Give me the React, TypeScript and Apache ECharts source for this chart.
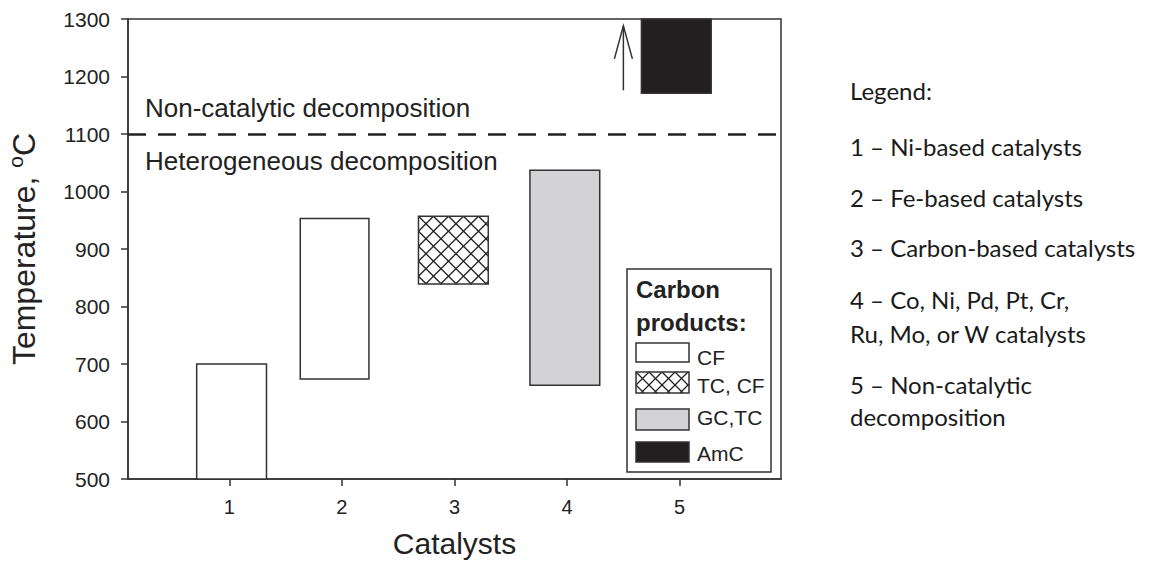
import React, { useEffect, useRef } from "react";
import * as echarts from "echarts";

// ---- data ----
const catalystTicks = [1, 2, 3, 4, 5];
const barXStart = [0.71, 1.63, 2.68, 3.67, 4.66];
const barXEnd = [1.33, 2.24, 3.3, 4.29, 5.28];
const barLow = [500, 674, 839, 663, 1171];
const barHigh = [700, 953, 957, 1037, 1300];
const barProduct = [0, 0, 1, 2, 3];
const productLabels = ["CF", "TC, CF", "GC,TC", "AmC"];
const boundaryTemp = 1100;
const arrowX = [4.5];
const arrowFrom = [1176];
const arrowTo = [1288];
const regionLabels = ["Non-catalytic decomposition", "Heterogeneous decomposition"];
const legendTitle = ["Carbon", "products:"];
const sideLegend = [
  "Legend:",
  "1 – Ni-based catalysts",
  "2 – Fe-based catalysts",
  "3 – Carbon-based catalysts",
  "4 – Co, Ni, Pd, Pt, Cr,",
  "Ru, Mo, or W catalysts",
  "5 – Non-catalytic",
  "decomposition",
];

// ---- styles ----
const FONT = "'Liberation Sans', Arial, sans-serif";
const SIDE_FONT = "Lato, 'Noto Sans', sans-serif";
const INK = "#222222";
const EDGE = "#333333";
const fills = ["#ffffff", "#ffffff", "#d3d3d5", "#231f20"];

function hatchLines(x0: number, y0: number, x1: number, y1: number, period: number) {
  const style = { stroke: "#222", lineWidth: 1.3 };
  const els: any[] = [];
  const ox = x0 - y0;
  for (let k = -200; k <= 200; k++) {
    const c = ox + k * period;
    const xa = Math.max(x0, y0 + c);
    const xb = Math.min(x1, y1 + c);
    if (xb - xa > 0.3) els.push({ type: "line", shape: { x1: xa, y1: xa - c, x2: xb, y2: xb - c }, style });
  }
  const od = x0 + y0;
  for (let k = -200; k <= 200; k++) {
    const c = od + k * period;
    const xa = Math.max(x0, c - y1);
    const xb = Math.min(x1, c - y0);
    if (xb - xa > 0.3) els.push({ type: "line", shape: { x1: xa, y1: c - xa, x2: xb, y2: c - xb }, style });
  }
  return els;
}

export default function App() {
  const ref = useRef<HTMLDivElement>(null);
  useEffect(() => {
    if (!ref.current) return;
    const chart = echarts.init(ref.current, undefined, { renderer: "svg" });

    const barData = barXStart.map((_, i) => [barXStart[i], barXEnd[i], barLow[i], barHigh[i], barProduct[i]]);
    const arrowData = arrowX.map((_, i) => [arrowX[i], arrowFrom[i], arrowTo[i]]);

    const swatchY = [343, 372, 409, 442];
    const swatchH = [19, 21, 21, 20];
    const labelY = [357, 385, 417, 453];
    const legendChildren: any[] = [
      { type: "rect", shape: { x: 627, y: 269, width: 144, height: 203 }, style: { fill: "#fff", stroke: EDGE, lineWidth: 1.5 } },
      { type: "text", x: 636, y: 289, style: { text: legendTitle[0], font: `bold 24px ${FONT}`, fill: INK, verticalAlign: "middle" } },
      { type: "text", x: 636, y: 322, style: { text: legendTitle[1], font: `bold 24px ${FONT}`, fill: INK, verticalAlign: "middle" } },
    ];
    productLabels.forEach((lab, i) => {
      const x0 = 636, y0 = swatchY[i], w = 53, h = swatchH[i];
      legendChildren.push({ type: "rect", shape: { x: x0, y: y0, width: w, height: h }, style: { fill: fills[i], stroke: "none" } });
      if (i === 1) legendChildren.push(...hatchLines(x0, y0, x0 + w, y0 + h, 13));
      legendChildren.push({ type: "rect", shape: { x: x0, y: y0, width: w, height: h }, style: { fill: "none", stroke: EDGE, lineWidth: 1.5 } });
      legendChildren.push({ type: "text", x: 697, y: labelY[i], style: { text: lab, font: `21px ${FONT}`, fill: INK, verticalAlign: "middle" } });
    });

    const sideY = [90, 146, 197, 247, 299, 333, 384, 416];
    const sideChildren = sideLegend.map((t, i) => ({
      type: "text",
      x: 850,
      y: sideY[i],
      style: { text: t, font: `24px ${SIDE_FONT}`, fill: "#1a1a1a", verticalAlign: "middle" },
    }));

    chart.setOption({
      animation: false,
      backgroundColor: "#ffffff",
      grid: {
        left: 128, top: 19, right: 380, bottom: 87,
        outerBoundsMode: "none", containLabel: false,
        show: true, borderColor: EDGE, borderWidth: 1.5, backgroundColor: "transparent",
      },
      xAxis: {
        type: "value",
        min: 0.1,
        max: 5.9,
        splitLine: { show: false },
        axisLine: { show: true, onZero: false, lineStyle: { color: EDGE, width: 1.5 } },
        axisTick: { show: true, length: 7, customValues: catalystTicks, lineStyle: { color: EDGE, width: 1.5 } },
        axisLabel: { customValues: catalystTicks, fontSize: 20, color: INK, fontFamily: FONT, margin: 18, formatter: (v: number) => String(v) },
        name: "Catalysts",
        nameLocation: "middle",
        nameGap: 49,
        nameTextStyle: { fontSize: 30, color: INK, fontFamily: FONT },
      },
      yAxis: {
        type: "value",
        min: 500,
        max: 1300,
        interval: 100,
        splitLine: { show: false },
        axisLine: { show: true, lineStyle: { color: EDGE, width: 1.5 } },
        axisTick: { show: true, length: 7, lineStyle: { color: EDGE, width: 1.5 } },
        axisLabel: { fontSize: 21, color: INK, fontFamily: FONT, margin: 18, formatter: (v: number) => String(v) },
        name: "Temperature, {sup|o}C",
        nameLocation: "middle",
        nameGap: 86,
        nameTextStyle: {
          fontSize: 32,
          color: INK,
          fontFamily: FONT,
          lineHeight: 37,
          rich: { sup: { fontSize: 21, lineHeight: 21, verticalAlign: "top", color: INK, fontFamily: FONT } },
        },
      },
      series: [
        {
          type: "line",
          data: [],
          silent: true,
          markLine: {
            silent: true,
            symbol: ["none", "none"],
            label: { show: false },
            lineStyle: { type: [18, 12], width: 2.5, color: "#222" },
            data: [{ yAxis: boundaryTemp }],
          },
        },
        {
          type: "custom",
          data: barData,
          encode: { x: [0, 1], y: [2, 3] },
          renderItem: (_params: any, api: any) => {
            const p1 = api.coord([api.value(0), api.value(3)]);
            const p2 = api.coord([api.value(1), api.value(2)]);
            const kind = api.value(4);
            const x = p1[0], y = p1[1], w = p2[0] - p1[0], h = p2[1] - p1[1];
            const children: any[] = [
              { type: "rect", shape: { x, y, width: w, height: h }, style: { fill: fills[kind], stroke: "none" } },
            ];
            if (kind === 1) children.push(...hatchLines(x, y, x + w, y + h, 15));
            children.push({ type: "rect", shape: { x, y, width: w, height: h }, style: { fill: "none", stroke: EDGE, lineWidth: 1.5 } });
            return { type: "group", children };
          },
        },
        {
          type: "custom",
          data: arrowData,
          encode: { x: 0, y: [1, 2] },
          renderItem: (_params: any, api: any) => {
            const b = api.coord([api.value(0), api.value(1)]);
            const t = api.coord([api.value(0), api.value(2)]);
            return {
              type: "group",
              children: [
                { type: "line", shape: { x1: b[0], y1: b[1], x2: t[0], y2: t[1] }, style: { stroke: EDGE, lineWidth: 1.5 } },
                {
                  type: "polyline",
                  shape: { points: [[t[0] - 9, t[1] + 33], [t[0], t[1]], [t[0] + 9, t[1] + 33]] },
                  style: { stroke: EDGE, lineWidth: 1.5, fill: "none" },
                },
              ],
            };
          },
        },
      ],
      graphic: [
        { type: "text", x: 145, y: 108, style: { text: regionLabels[0], font: `26px ${FONT}`, fill: INK, verticalAlign: "middle" } },
        { type: "text", x: 145, y: 161, style: { text: regionLabels[1], font: `26px ${FONT}`, fill: INK, verticalAlign: "middle" } },
        { type: "group", children: legendChildren },
        { type: "group", children: sideChildren },
      ],
    });
    return () => chart.dispose();
  }, []);
  return <div ref={ref} style={{ position: "fixed", left: 0, top: 0, width: 1161, height: 566, background: "#fff" }} />;
}
